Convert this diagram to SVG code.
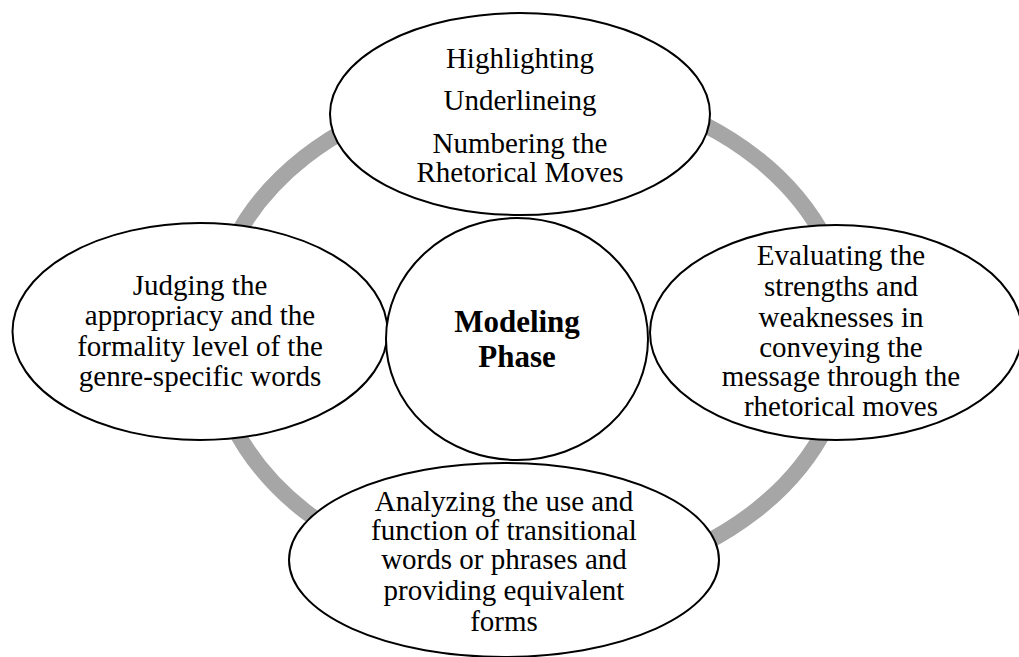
<svg xmlns="http://www.w3.org/2000/svg" width="1019" height="657" viewBox="0 0 1019 657">
<style>
.node{fill:#fff;stroke:#000;stroke-width:2}
.t{font-family:"Liberation Serif","Times New Roman",serif;font-size:29px;fill:#000;text-anchor:middle}
.b{font-family:"Liberation Serif","Times New Roman",serif;font-size:31px;font-weight:bold;fill:#000;text-anchor:middle}
</style>
<rect width="1019" height="657" fill="#fff"/>
<g id="connectors">
<ellipse cx="530" cy="334" rx="319" ry="250" fill="none" stroke="#A6A6A6" stroke-width="16"/>
</g>
<g id="node-top">
<ellipse class="node" cx="520" cy="114" rx="190" ry="101"/>
<text class="t" x="520" y="68">Highlighting</text>
<text class="t" x="520" y="110">Underlineing</text>
<text class="t" x="520" y="153">Numbering the</text>
<text class="t" x="520" y="182">Rhetorical Moves</text>
</g>
<g id="node-left">
<ellipse class="node" cx="200" cy="331.5" rx="187.5" ry="108.5"/>
<text class="t" x="200" y="295">Judging the</text>
<text class="t" x="200" y="325">appropriacy and the</text>
<text class="t" x="200" y="356">formality level of the</text>
<text class="t" x="200" y="386">genre-specific words</text>
</g>
<g id="node-right">
<ellipse class="node" cx="836" cy="332.5" rx="186" ry="107.5"/>
<text class="t" x="841" y="265">Evaluating the</text>
<text class="t" x="841" y="296">strengths and</text>
<text class="t" x="841" y="327">weaknesses in</text>
<text class="t" x="841" y="357">conveying the</text>
<text class="t" x="841" y="386">message through the</text>
<text class="t" x="841" y="416">rhetorical moves</text>
</g>
<g id="node-bottom">
<ellipse class="node" cx="504" cy="560" rx="215" ry="97"/>
<text class="t" x="504" y="511">Analyzing the use and</text>
<text class="t" x="504" y="540">function of transitional</text>
<text class="t" x="504" y="569">words or phrases and</text>
<text class="t" x="504" y="600">providing equivalent</text>
<text class="t" x="504" y="631">forms</text>
</g>
<g id="node-center">
<ellipse class="node" cx="517" cy="339" rx="131" ry="121"/>
<text class="b" x="517" y="332">Modeling</text>
<text class="b" x="517" y="367">Phase</text>
</g>
</svg>
